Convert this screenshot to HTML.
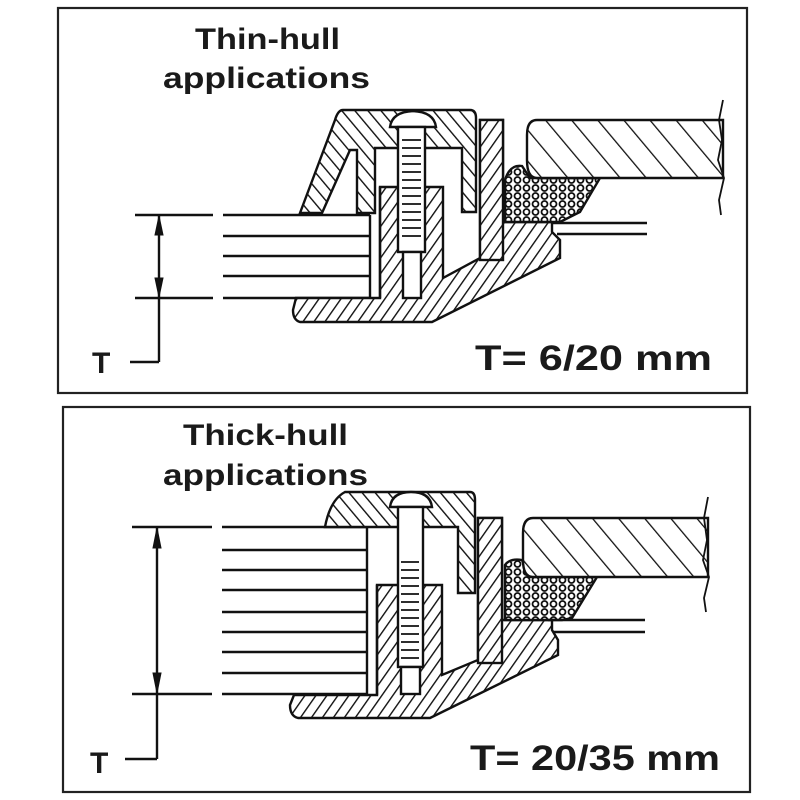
<!DOCTYPE html>
<html><head><meta charset="utf-8"><style>
html,body{margin:0;padding:0;background:#fff;}
svg{display:block;}
text{font-family:"Liberation Sans",sans-serif;font-weight:bold;fill:#1a1a1a;}
</style></head><body>
<svg width="800" height="800" viewBox="0 0 800 800" xmlns="http://www.w3.org/2000/svg">
<defs>
<pattern id="hf" patternUnits="userSpaceOnUse" width="9" height="9" patternTransform="rotate(35)">
<rect width="9" height="9" fill="#fff"/><line x1="0" y1="0" x2="0" y2="9" stroke="#111" stroke-width="2.8"/></pattern>
<pattern id="hb" patternUnits="userSpaceOnUse" width="10" height="10" patternTransform="rotate(-40)">
<rect width="10" height="10" fill="#fff"/><line x1="0" y1="0" x2="0" y2="10" stroke="#111" stroke-width="2.8"/></pattern>
<pattern id="hw" patternUnits="userSpaceOnUse" width="20" height="20" patternTransform="rotate(-40)">
<rect width="20" height="20" fill="#fff"/><line x1="0" y1="0" x2="0" y2="20" stroke="#111" stroke-width="2.6"/></pattern>
<pattern id="dots" patternUnits="userSpaceOnUse" width="9" height="8">
<rect width="9" height="8" fill="#fff"/><circle cx="4.5" cy="4" r="3" fill="none" stroke="#111" stroke-width="1.8"/></pattern>
</defs>
<g fill="none" stroke="#222" stroke-width="2.2">
<rect x="58" y="8" width="689" height="385"/>
<rect x="63" y="407" width="687" height="385"/>
</g>
<text x="195" y="49" font-size="30" textLength="145" lengthAdjust="spacingAndGlyphs">Thin-hull</text>
<text x="163" y="88" font-size="30" textLength="207" lengthAdjust="spacingAndGlyphs">applications</text>
<text x="475" y="370" font-size="35" textLength="237" lengthAdjust="spacingAndGlyphs">T= 6/20 mm</text>
<text x="183" y="445" font-size="30" textLength="165" lengthAdjust="spacingAndGlyphs">Thick-hull</text>
<text x="163" y="485" font-size="30" textLength="205" lengthAdjust="spacingAndGlyphs">applications</text>
<text x="470" y="770" font-size="35" textLength="250" lengthAdjust="spacingAndGlyphs">T= 20/35 mm</text>
<text x="92" y="373" font-size="30">T</text>
<text x="90" y="773" font-size="30">T</text>

<!-- TOP -->
<g stroke="#111" stroke-width="2.4" fill="none">
<line x1="135" y1="215" x2="213" y2="215"/><line x1="135" y1="298" x2="213" y2="298"/>
<line x1="159" y1="215" x2="159" y2="362"/>
<polyline points="159,362 130,362"/>
<path d="M159,216 L155,235 L163,235 Z M159,297 L155,278 L163,278 Z" fill="#111" stroke-width="1"/>
<line x1="223" y1="215" x2="370" y2="215"/><line x1="223" y1="236" x2="370" y2="236"/>
<line x1="223" y1="256" x2="370" y2="256"/><line x1="223" y1="276" x2="370" y2="276"/>
<line x1="223" y1="298" x2="370" y2="298"/><line x1="370" y1="215" x2="370" y2="298"/>
<path d="M296,298 L380,298 L380,187 L443,187 L443,278 L480,258 L480,120 L503,120 L503,222 L552,222 L552,232 L560,240 L560,258 L432,322 L300,322 Q293,320 293,310 Z" fill="url(#hf)"/>
<line x1="380" y1="298" x2="380" y2="187"/>
<rect x="480" y="120" width="23" height="140" fill="url(#hf)"/>
<path d="M343,110 L470,110 Q476,110 476,118 L476,212 L462,212 L462,148 L375,148 L375,213 L357,213 L357,150 L350,150 L322,213 L300,213 L335,120 Q338,110 343,110 Z" fill="url(#hb)"/>
<path d="M390,127 Q392,112 413,111 Q434,112 436,127 Z" fill="#fff"/>
<rect x="398" y="127" width="27" height="125" fill="#fff"/>
<rect x="403" y="252" width="18" height="46" fill="#fff"/>
<g stroke-width="1.8"><line x1="402" y1="140" x2="421" y2="140"/><line x1="402" y1="148" x2="421" y2="148"/><line x1="402" y1="156" x2="421" y2="156"/><line x1="402" y1="164" x2="421" y2="164"/><line x1="402" y1="172" x2="421" y2="172"/><line x1="402" y1="180" x2="421" y2="180"/><line x1="402" y1="188" x2="421" y2="188"/><line x1="402" y1="196" x2="421" y2="196"/><line x1="402" y1="204" x2="421" y2="204"/><line x1="402" y1="212" x2="421" y2="212"/><line x1="402" y1="220" x2="421" y2="220"/><line x1="402" y1="228" x2="421" y2="228"/><line x1="402" y1="236" x2="421" y2="236"/></g>
<path d="M505,180 Q510,164 522,166 L530,178 L600,178 L580,212 L560,222 L505,222 Z" fill="url(#dots)"/>
<path d="M537,120 L723,120 L723,178 L537,178 Q527,178 527,160 L527,135 Q527,120 537,120 Z" fill="url(#hw)"/>
<path d="M723,100 L719,120 L722,140 L718,160 L724,178 L719,200 L721,215" stroke-width="1.8"/>
<line x1="552" y1="223" x2="647" y2="223"/><line x1="557" y1="234" x2="647" y2="234"/>
</g>

<!-- BOTTOM -->
<g stroke="#111" stroke-width="2.4" fill="none">
<line x1="132" y1="527" x2="212" y2="527"/><line x1="132" y1="694" x2="212" y2="694"/>
<line x1="157" y1="527" x2="157" y2="759"/>
<polyline points="157,759 125,759"/>
<path d="M157,528 L153,548 L161,548 Z M157,693 L153,673 L161,673 Z" fill="#111" stroke-width="1"/>
<line x1="222" y1="527" x2="367" y2="527"/><line x1="222" y1="550" x2="367" y2="550"/>
<line x1="222" y1="570" x2="367" y2="570"/><line x1="222" y1="590" x2="367" y2="590"/>
<line x1="222" y1="612" x2="367" y2="612"/><line x1="222" y1="632" x2="367" y2="632"/>
<line x1="222" y1="652" x2="367" y2="652"/><line x1="222" y1="673" x2="367" y2="673"/>
<line x1="222" y1="694" x2="367" y2="694"/><line x1="367" y1="527" x2="367" y2="694"/>
<path d="M294,695 L377,695 L377,585 L442,585 L442,675 L478,660 L478,518 L502,518 L502,620 L552,620 L552,630 L558,640 L558,655 L430,718 L298,718 Q290,716 290,705 Z" fill="url(#hf)"/>
<line x1="377" y1="695" x2="377" y2="585"/>
<rect x="478" y="518" width="24" height="145" fill="url(#hf)"/>
<path d="M345,492 L470,492 Q475,492 475,500 L475,593 L458,593 L458,527 L325,527 Q330,500 345,492 Z" fill="url(#hb)"/>
<path d="M390,507 Q392,492 411,492 Q430,492 432,507 Z" fill="#fff"/>
<rect x="398" y="507" width="25" height="160" fill="#fff"/>
<rect x="401" y="667" width="19" height="27" fill="#fff"/>
<g stroke-width="1.8"><line x1="401" y1="562" x2="419" y2="562"/><line x1="401" y1="570" x2="419" y2="570"/><line x1="401" y1="578" x2="419" y2="578"/><line x1="401" y1="586" x2="419" y2="586"/><line x1="401" y1="594" x2="419" y2="594"/><line x1="401" y1="602" x2="419" y2="602"/><line x1="401" y1="610" x2="419" y2="610"/><line x1="401" y1="618" x2="419" y2="618"/><line x1="401" y1="626" x2="419" y2="626"/><line x1="401" y1="634" x2="419" y2="634"/><line x1="401" y1="642" x2="419" y2="642"/><line x1="401" y1="650" x2="419" y2="650"/><line x1="401" y1="658" x2="419" y2="658"/></g>
<path d="M505,565 Q510,558 522,560 L528,577 L597,577 L572,618 L562,620 L505,620 Z" fill="url(#dots)"/>
<path d="M533,518 L708,518 L708,577 L533,577 Q523,577 523,560 L523,533 Q523,518 533,518 Z" fill="url(#hw)"/>
<path d="M708,497 L704,518 L707,540 L703,560 L709,577 L704,598 L706,612" stroke-width="1.8"/>
<line x1="548" y1="620" x2="645" y2="620"/><line x1="553" y1="632" x2="645" y2="632"/>
</g>
</svg>
</body></html>
